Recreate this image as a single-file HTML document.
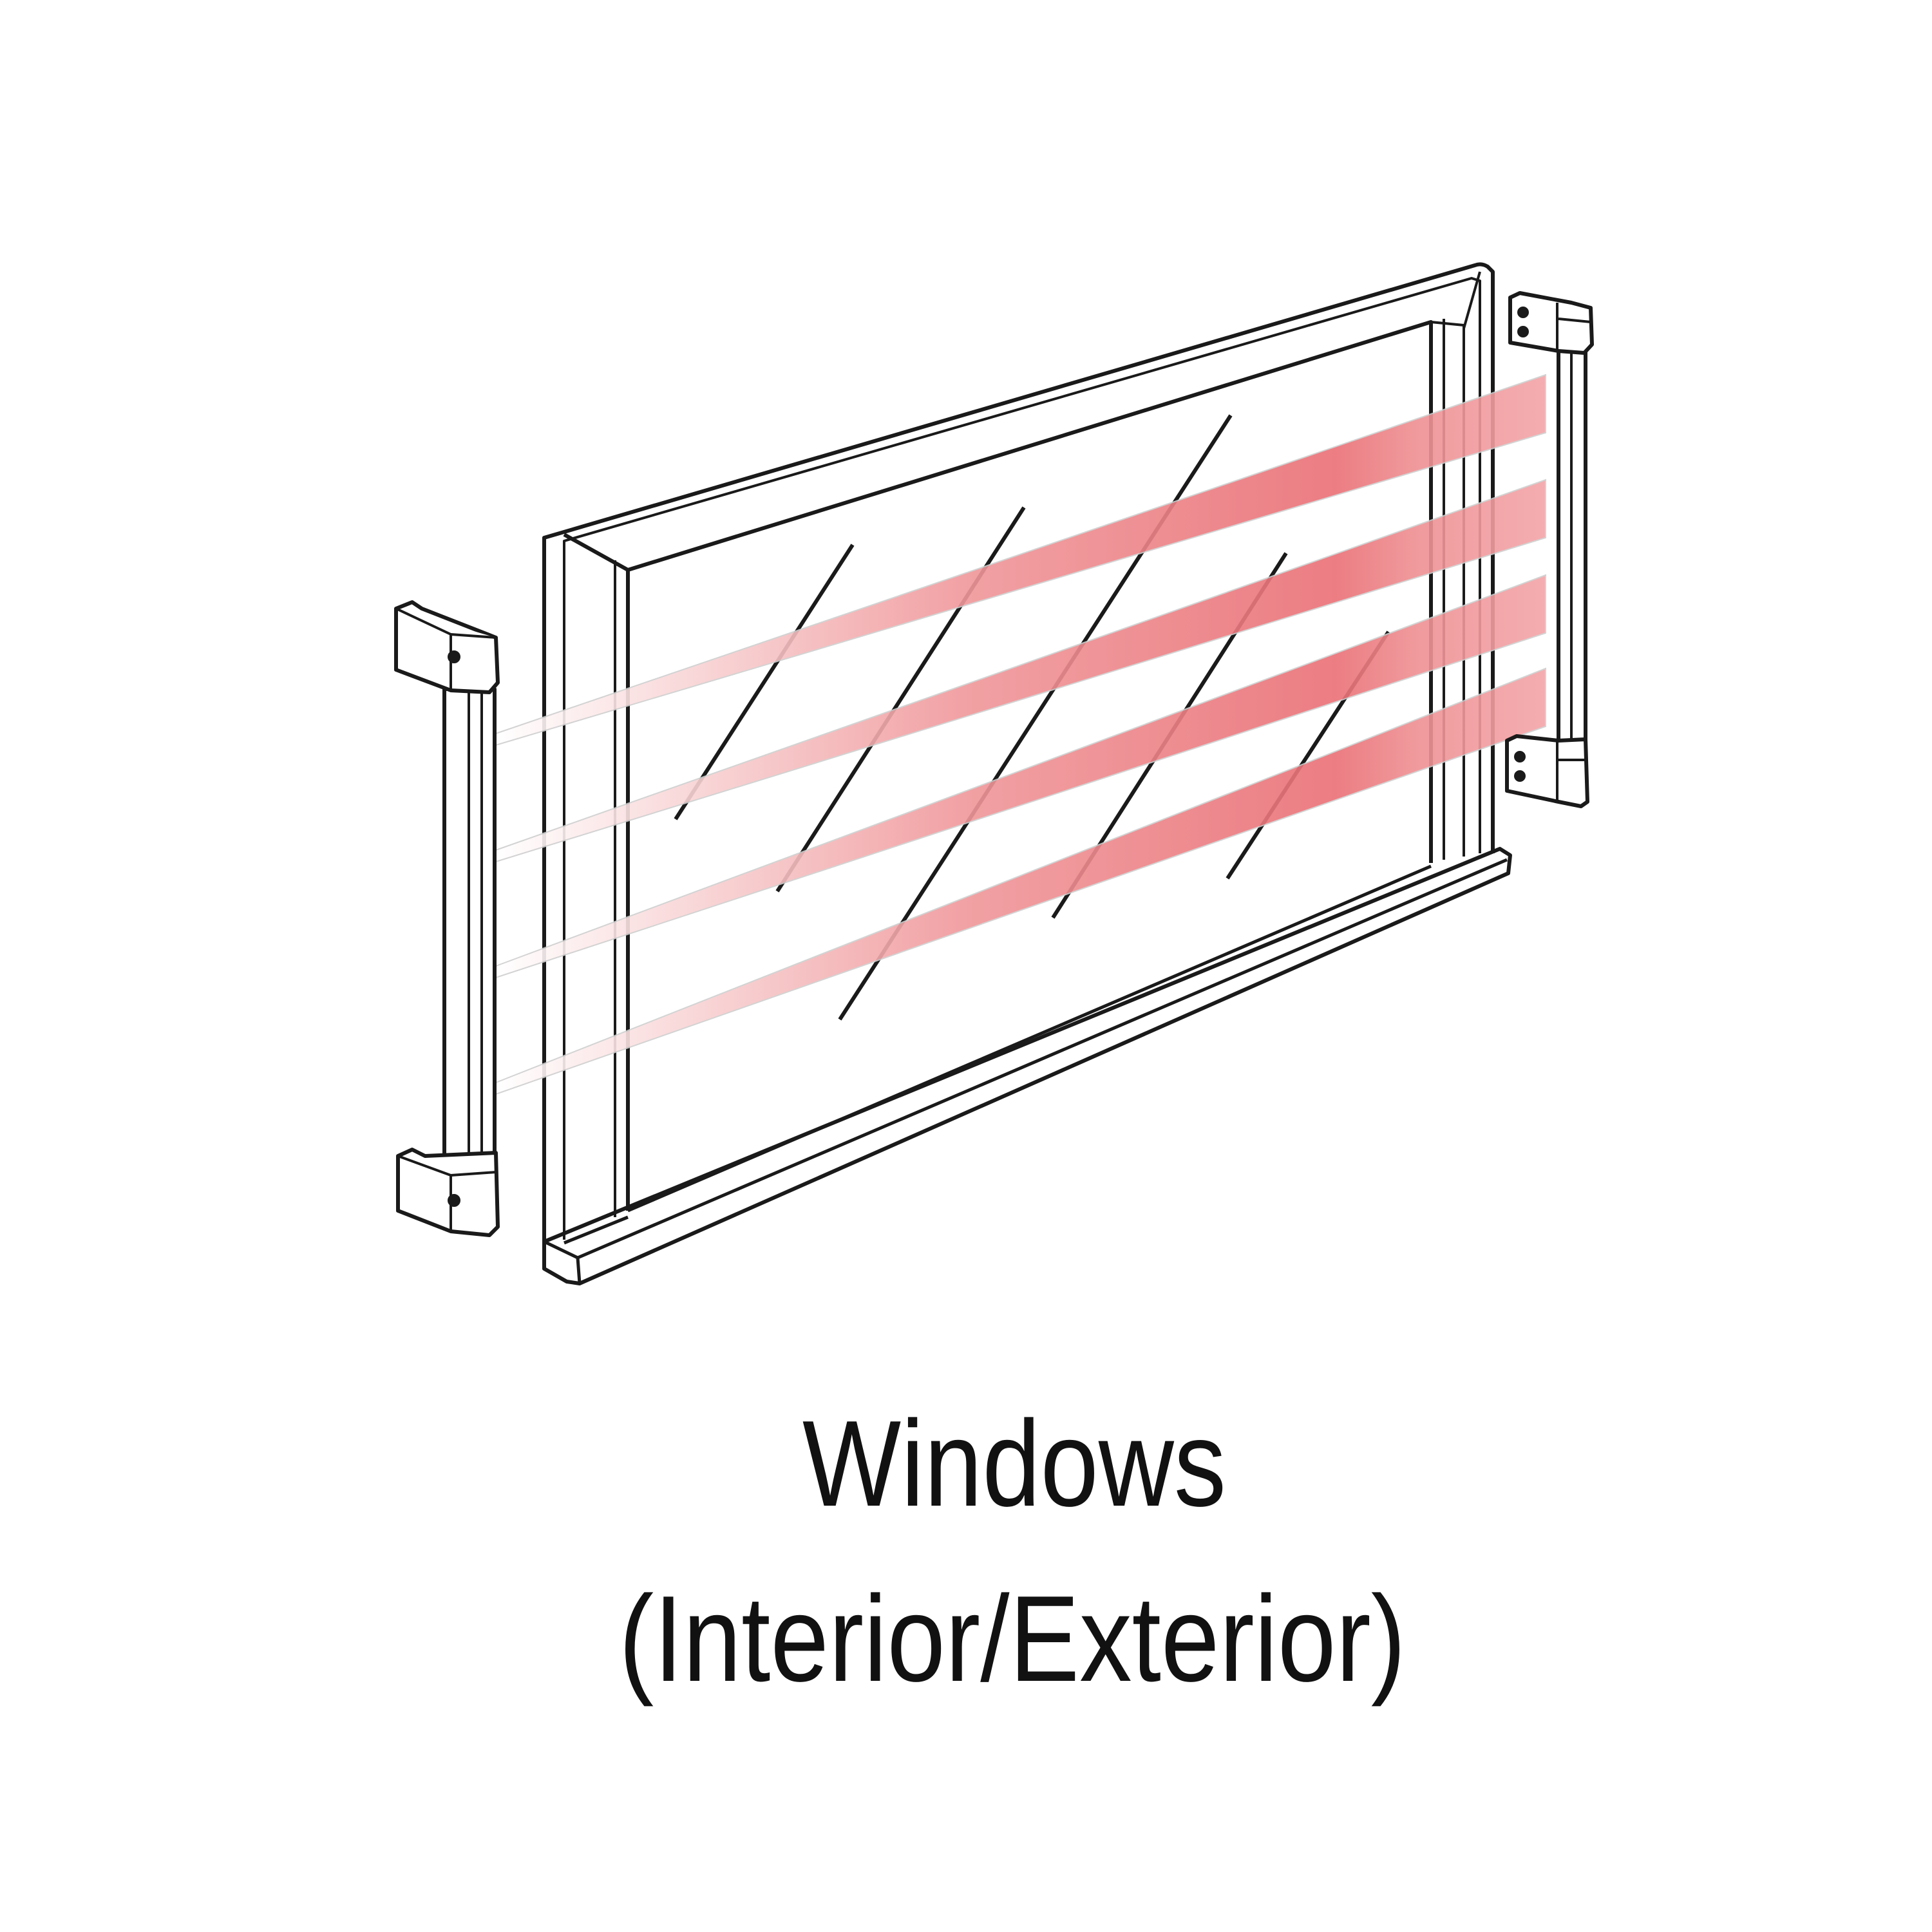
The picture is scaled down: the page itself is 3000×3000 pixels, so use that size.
<!DOCTYPE html>
<html><head><meta charset="utf-8"><style>
html,body{margin:0;padding:0;background:#fff;}
svg{display:block;}
</style></head><body>
<svg width="3000" height="3000" viewBox="0 0 3000 3000" xmlns="http://www.w3.org/2000/svg">
<defs>
<linearGradient id="bg" gradientUnits="userSpaceOnUse" x1="770" y1="0" x2="2400" y2="0">
<stop offset="0" stop-color="#ffffff"/>
<stop offset="0.15" stop-color="#fadcdd"/>
<stop offset="0.45" stop-color="#f0979a"/>
<stop offset="0.8" stop-color="#ea7076"/>
<stop offset="0.88" stop-color="#ef9194"/>
<stop offset="1" stop-color="#f3a5a8"/>
</linearGradient>
</defs>
<rect width="3000" height="3000" fill="#fff"/>
<g fill="none" stroke="#1a1a1a" stroke-width="6" stroke-linejoin="round">
<!-- outer frame -->
<path d="M845,1930 L845,835 L2290,412 Q2300,408 2310,414 L2318,422 L2318,1325"/>
<path d="M876,1925 L876,840 L2285,432 L2298,436 L2298,1325" stroke-width="4"/>
<path d="M876,830 L975,885"/>
<path d="M2298,422 L2273,510" stroke-width="4"/>
<!-- glass opening -->
<path d="M975,1880 L975,885 L2222,500 L2222,1340"/>
<path d="M955,1890 L955,870" stroke-width="4"/>
<path d="M2242,495 L2242,1335" stroke-width="4"/>
<path d="M2222,500 L2273,505 L2273,1330" stroke-width="4"/>
<path d="M975,1880 L2222,1345" stroke-width="5"/>
<path d="M876,1930 L975,1890" stroke-width="5"/>
<!-- sill -->
<path d="M845,1928 L2329,1318 L2345,1328 L2342,1356 L900,1993 L880,1990 L845,1970 Z"/>
<path d="M845,1928 L897,1953 L2340,1335 M897,1953 L900,1993" stroke-width="5"/>
<!-- glass lines -->
<path d="M1049,1272 L1324,846"/>
<path d="M1207,1384 L1590,788"/>
<path d="M1304,1583 L1911,645"/>
<path d="M1635,1425 L1997,859"/>
<path d="M1906,1364 L2156,981"/>
</g>
<!-- beams -->
<g fill="url(#bg)" stroke="#cfcfcf" stroke-width="2" opacity="0.9">
<polygon points="770,1139 2400,582 2400,672 770,1157"/>
<polygon points="770,1320 2400,745 2400,835 770,1338"/>
<polygon points="770,1500 2400,893 2400,983 770,1518"/>
<polygon points="770,1681 2400,1038 2400,1128 770,1699"/>
</g>
<!-- left sensor -->
<g fill="#fff" stroke="#1a1a1a" stroke-width="6" stroke-linejoin="round">
<rect x="690" y="1070" width="78" height="730"/>
<path d="M728,1072 L728,1798 M748,1072 L748,1798" stroke-width="4"/>
<path d="M615,945 L640,935 L655,945 L770,990 L773,1060 L760,1075 L700,1072 L615,1040 Z"/>
<path d="M615,945 L700,985 L770,990 M700,985 L700,1072" stroke-width="4"/>
<circle cx="705" cy="1020" r="7" fill="#1a1a1a"/>
<path d="M618,1795 L640,1785 L660,1795 L770,1790 L773,1905 L760,1918 L700,1912 L618,1880 Z"/>
<path d="M618,1795 L700,1825 L770,1820 M700,1825 L700,1912" stroke-width="4"/>
<circle cx="705" cy="1864" r="7" fill="#1a1a1a"/>
</g>
<!-- right sensor -->
<g fill="#fff" stroke="#1a1a1a" stroke-width="6" stroke-linejoin="round">
<rect x="2420" y="540" width="42" height="620"/>
<path d="M2440,545 L2440,1155" stroke-width="4"/>
<path d="M2345,462 L2360,455 L2440,470 L2470,478 L2472,535 L2460,548 L2420,545 L2345,532 Z" />
<path d="M2418,470 L2418,545 M2420,495 L2470,500" stroke-width="4"/>
<circle cx="2365" cy="485" r="6" fill="#1a1a1a"/><circle cx="2365" cy="515" r="6" fill="#1a1a1a"/>
<path d="M2340,1150 L2355,1143 L2420,1150 L2462,1148 L2465,1245 L2455,1252 L2420,1245 L2340,1228 Z"/>
<path d="M2418,1150 L2418,1245 M2420,1180 L2462,1180" stroke-width="4"/>
<circle cx="2360" cy="1175" r="6" fill="#1a1a1a"/><circle cx="2360" cy="1205" r="6" fill="#1a1a1a"/>
</g>
<!-- text -->
<g font-family="'Liberation Sans', sans-serif" fill="#111">
<text x="1246" y="2338" font-size="190" textLength="658" lengthAdjust="spacingAndGlyphs">Windows</text>
<text x="961" y="2610" font-size="190" textLength="1222" lengthAdjust="spacingAndGlyphs">(Interior/Exterior)</text>
</g>
</svg>
</body></html>
